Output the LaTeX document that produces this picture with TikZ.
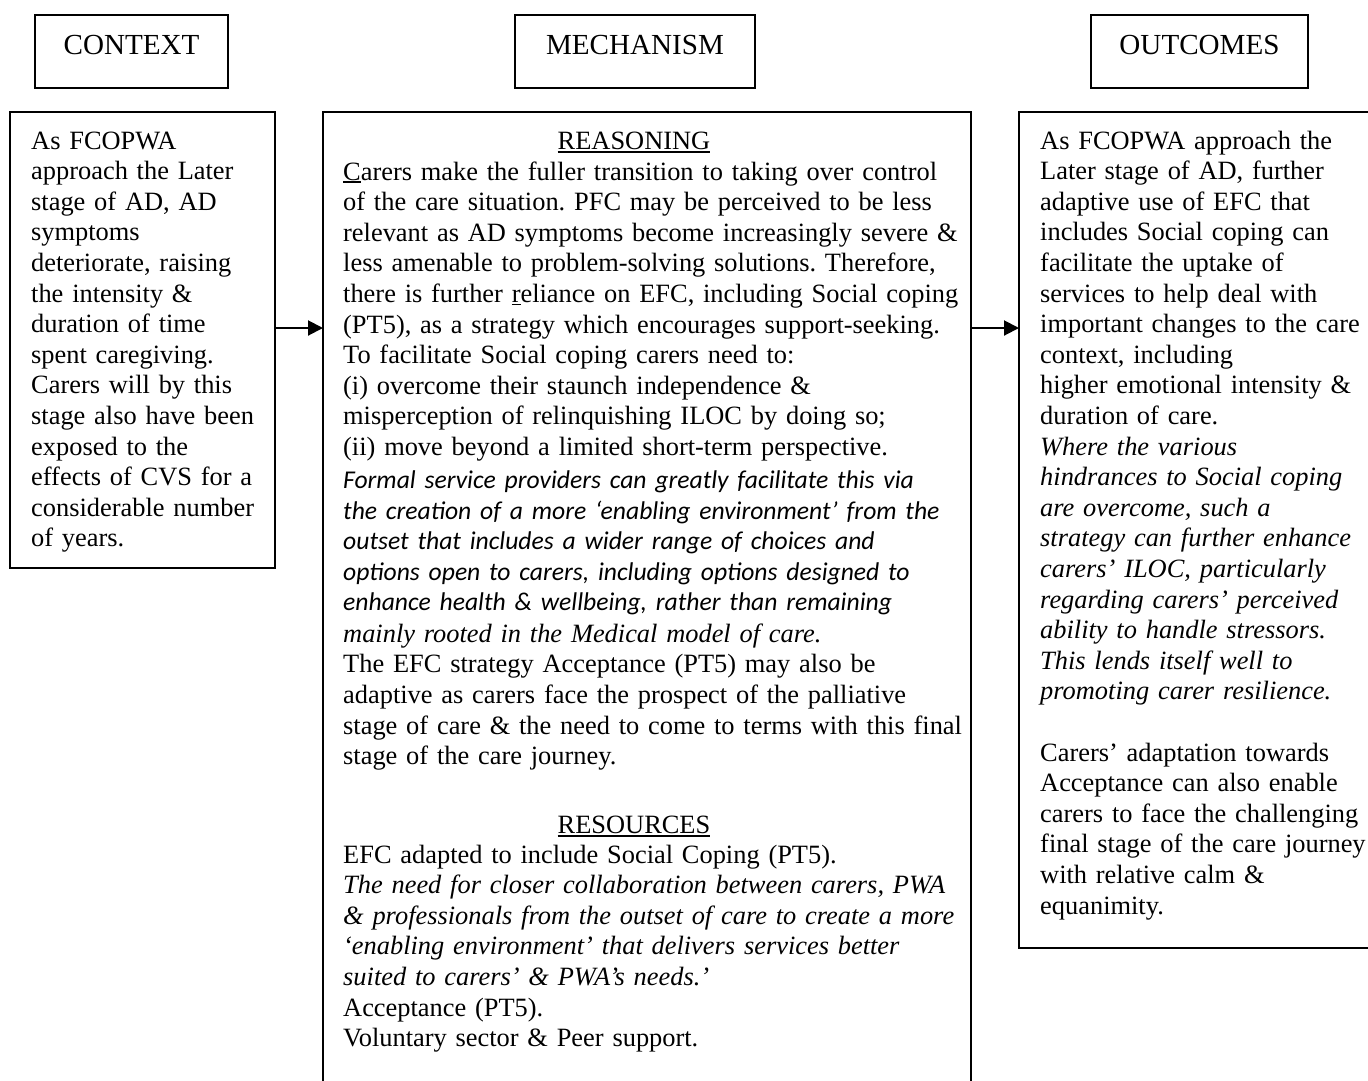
\documentclass[tikz,border=0pt]{standalone}
\usepackage{fontspec}
\setmainfont{Liberation Serif}
\newfontfamily\calib[Scale=0.97]{Carlito}
\usetikzlibrary{arrows.meta}
\newcommand{\ulin}[2][3pt]{\setbox0\hbox{#2}\rlap{\rule[-#1]{\wd0}{1.6pt}}\box0}
\frenchspacing
\tikzset{
 boxline/.style={draw, line width=2pt, inner sep=0pt, outer sep=0pt, anchor=north west},
 hdr/.style={boxline, font=\fontsize{29.1}{33}\selectfont, text height=39pt, text depth=34pt},
 body/.style={inner sep=0pt, anchor=base west, align=left, font=\fontsize{26.4}{30.6}\selectfont\frenchspacing},
 headtxt/.style={inner sep=0pt, anchor=base, font=\fontsize{26.4}{30.6}\selectfont},
 link/.style={line width=2pt, -{Triangle[length=15pt,width=15pt]}}
}
\begin{document}
\begin{tikzpicture}[x=1pt,y=-1pt]
\useasboundingbox (0,0) rectangle (1368,1080);
\clip (0,0) rectangle (1368,1080);
% header boxes
\node[hdr, minimum width=193pt] (hctx) at (35,15) {CONTEXT};
\node[hdr, minimum width=240pt] (hmech) at (515,15) {MECHANISM};
\node[hdr, minimum width=217pt] (hout) at (1091,15) {OUTCOMES};
% body boxes
\node[boxline, minimum width=265pt, minimum height=456pt] (ctx) at (10,112) {};
\node[boxline, minimum width=648pt, minimum height=1000pt] (mech) at (323,112) {};
\node[boxline, minimum width=400pt, minimum height=836pt] (out) at (1019,112) {};
% context text
\node[body, text width=260pt] (ctxtxt) at (31,149) {As FCOPWA\\
approach the Later\\
stage of AD, AD\\
symptoms\\
deteriorate, raising\\
the intensity \&\\
duration of time\\
spent caregiving.\\
Carers will by this\\
stage also have been\\
exposed to the\\
effects of CVS for a\\
considerable number\\
of years.};
% mechanism text
\node[headtxt] (reas) at (634,149) {\ulin[4pt]{REASONING}};
\node[body, text width=640pt] (reastxt) at (343,180) {\ulin{C}arers make the fuller transition to taking over control\\
of the care situation. PFC may be perceived to be less\\
relevant as AD symptoms become increasingly severe \&\\
less amenable to problem-solving solutions. Therefore,\\
there is further \ulin{r}eliance on EFC, including Social coping\\
(PT5), as a strategy which encourages support-seeking.\\
To facilitate Social coping carers need to:\\
(i) overcome their staunch independence \&\\
misperception of relinquishing ILOC by doing so;\\
(ii) move beyond a limited short-term perspective.\\[2.4pt]
{\calib\itshape Formal service providers can greatly facilitate this via\\
the creation of a more ‘enabling environment’ from the\\
outset that includes a wider range of choices and\\
options open to carers, including options designed to\\
enhance health \& wellbeing, rather than remaining}\\[0.8pt]
{\itshape mainly rooted in the Medical model of care.}\\
The EFC strategy Acceptance (PT5) may also be\\
adaptive as carers face the prospect of the palliative\\
stage of care \& the need to come to terms with this final\\
stage of the care journey.};
\node[headtxt] (res) at (634,833) {\ulin[4pt]{RESOURCES}};
\node[body, text width=640pt] (restxt) at (343,863) {EFC adapted to include Social Coping (PT5).\\
{\itshape The need for closer collaboration between carers, PWA\\
\& professionals from the outset of care to create a more\\
‘enabling environment’ that delivers services better\\
suited to carers’ \& PWA’s needs.’}\\
Acceptance (PT5).\\
Voluntary sector \& Peer support.};
% outcomes text
\node[body, text width=330pt] (outtxt) at (1040,149) {As FCOPWA approach the\\
Later stage of AD, further\\
adaptive use of EFC that\\
includes Social coping can\\
facilitate the uptake of\\
services to help deal with\\
important changes to the care\\
context, including\\
higher emotional intensity \&\\
duration of care.\\
{\itshape Where the various\\
hindrances to Social coping\\
are overcome, such a\\
strategy can further enhance\\
carers’ ILOC, particularly\\
regarding carers’ perceived\\
ability to handle stressors.\\
This lends itself well to\\
promoting carer resilience.}\\[30.6pt]
Carers’ adaptation towards\\
Acceptance can also enable\\
carers to face the challenging\\
final stage of the care journey\\
with relative calm \&\\
equanimity.};
% connectors
\coordinate (ay) at (0,328);
\draw[link] (ctx.east |- ay) -- (mech.west |- ay);
\draw[link] (mech.east |- ay) -- (out.west |- ay);
\end{tikzpicture}
\end{document}
